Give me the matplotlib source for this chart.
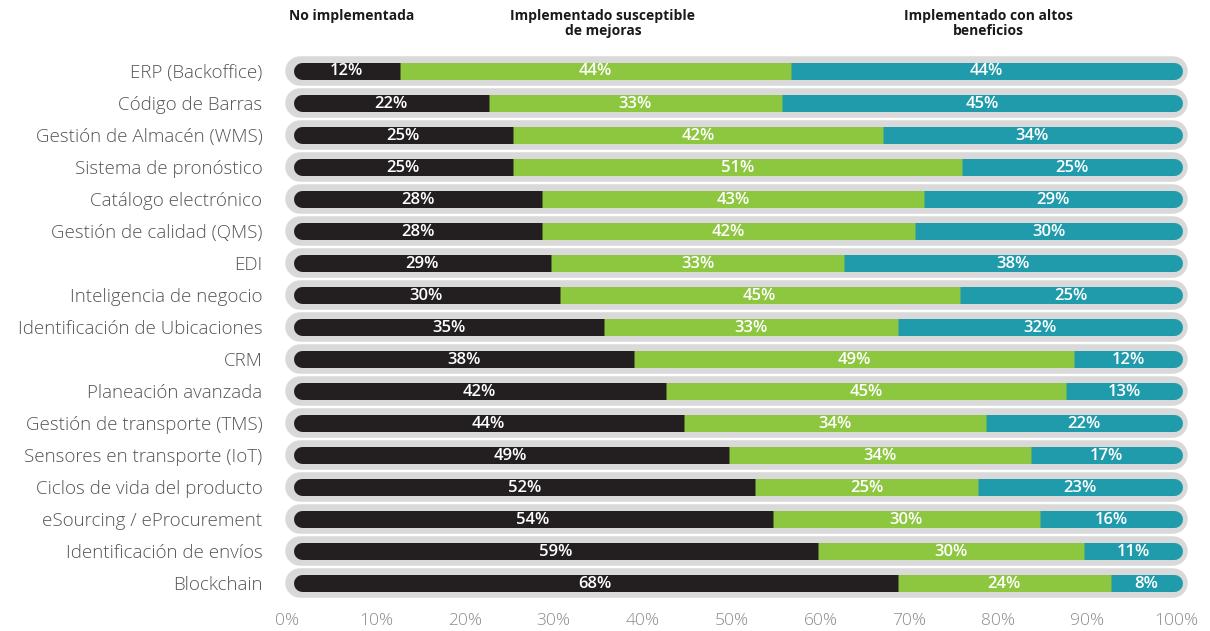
import matplotlib
matplotlib.use("Agg")
import matplotlib.pyplot as plt
from matplotlib.transforms import ScaledTranslation
import numpy as np

categories = [
    "ERP (Backoffice)", "Código de Barras", "Gestión de Almacén (WMS)",
    "Sistema de pronóstico", "Catálogo electrónico", "Gestión de calidad (QMS)",
    "EDI", "Inteligencia de negocio", "Identificación de Ubicaciones", "CRM",
    "Planeación avanzada", "Gestión de transporte (TMS)", "Sensores en transporte (IoT)",
    "Ciclos de vida del producto", "eSourcing / eProcurement",
    "Identificación de envíos", "Blockchain",
]
no_impl = [12, 22, 25, 25, 28, 28, 29, 30, 35, 38, 42, 44, 49, 52, 54, 59, 68]
mejoras = [44, 33, 42, 51, 43, 42, 33, 45, 33, 49, 45, 34, 34, 25, 30, 30, 24]
altos = [44, 45, 34, 25, 29, 30, 38, 25, 32, 12, 13, 22, 17, 23, 16, 11, 8]
series_names = ["No implementada", "Implementado susceptible\nde mejoras",
                "Implementado con altos\nbeneficios"]
tick_vals = [0, 10, 20, 30, 40, 50, 60, 70, 80, 90, 100]

C_DARK = "#231f20"
C_GREEN = "#8dc63f"
C_TEAL = "#1f9bab"
C_GRAY = "#d9d9d9"

plt.rcParams['font.family'] = ['Open Sans', 'DejaVu Sans']

W, H, DPI = 1210, 631, 100
fig = plt.figure(figsize=(W / DPI, H / DPI), dpi=DPI)
ax_l, ax_r = 293, 1182
ax_t, ax_b = 54.5, 599.5
ax = fig.add_axes([ax_l / W, 1 - ax_b / H, (ax_r - ax_l) / W, (ax_b - ax_t) / H])
n = len(categories)
ax.set_xlim(0, 100)
ax.set_ylim(n - 0.5, -0.5)

px = 100.0 / (ax_r - ax_l)  # data units per pixel (x)
pt = 72.0 / DPI
pill_h = 29.5
bar_h = 17
r_pill = pill_h / 2
r_bar = bar_h / 2

for i in range(n):
    tot = no_impl[i] + mejoras[i] + altos[i]
    a = no_impl[i] / tot * 100
    b = (no_impl[i] + mejoras[i]) / tot * 100
    # background pill
    ax.plot([(-8 + r_pill) * px, 100 + (6 - r_pill) * px], [i, i], color=C_GRAY,
            lw=pill_h * pt, solid_capstyle='round', zorder=1, clip_on=False)
    # dark segment
    ax.plot([r_bar * px, a], [i, i], color=C_DARK, lw=bar_h * pt,
            solid_capstyle='round', zorder=2, clip_on=False)
    # teal segment
    ax.plot([b, 100 - r_bar * px], [i, i], color=C_TEAL, lw=bar_h * pt,
            solid_capstyle='round', zorder=2, clip_on=False)
    # green segment
    ax.plot([a, b], [i, i], color=C_GREEN, lw=bar_h * pt,
            solid_capstyle='butt', zorder=3, clip_on=False)
    for x0, x1, v in [(0, a, no_impl[i]), (a, b, mejoras[i]), (b, 100, altos[i])]:
        ax.text((x0 + x1) / 2, i + 0.03, f"{v}%", color="white", ha="center",
                va="center", fontsize=12, fontweight="semibold", zorder=4)

ax.set_yticks(range(n))
ax.set_yticklabels(categories, fontsize=13.5, color="#555555", fontweight="light")
ax.tick_params(axis='y', length=0, pad=22)
ax.set_xticks(tick_vals)
ax.set_xticklabels([f"{v}%" for v in tick_vals], fontsize=12.5, color="#8a8a8a",
                   fontweight="light")
ax.tick_params(axis='x', length=0, pad=9.5)
off = ScaledTranslation(-6 / DPI, 0, fig.dpi_scale_trans)
for lab in ax.get_xticklabels():
    lab.set_transform(lab.get_transform() + off)
for s in ax.spines.values():
    s.set_visible(False)

header_x = [352, 603, 988]
for hx, name in zip(header_x, series_names):
    fig.text(hx / W, 1 - 9 / H, name, ha="center", va="top", fontsize=10,
             fontweight="bold", color="#1a1a1a", linespacing=1.1)

fig.savefig("out.png", dpi=DPI)
